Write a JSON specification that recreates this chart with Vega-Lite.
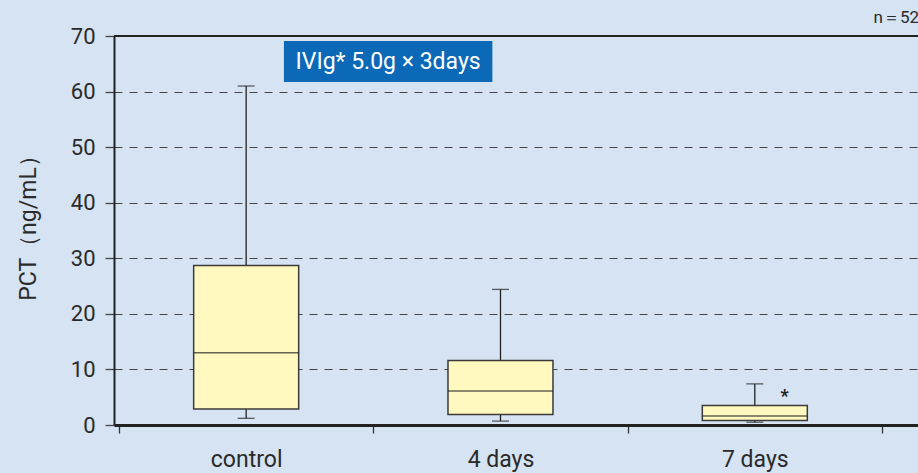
{
  "$schema": "https://vega.github.io/schema/vega-lite/v6.json",
  "width": 804,
  "height": 389,
  "autosize": {"type": "none"},
  "padding": {"left": 114, "top": 36, "right": 0, "bottom": 48},
  "background": "#d5e3f2",
  "config": {
    "view": {"stroke": null},
    "font": "Roboto",
    "axis": {"labelFont": "Roboto", "titleFont": "Roboto"}
  },
  "datasets": {
    "boxes": [
      {"group": "control", "x": 1, "low": 1.2, "q1": 2.9, "median": 13.0, "q3": 28.7, "high": 61.0},
      {"group": "4 days", "x": 2, "low": 0.7, "q1": 1.9, "median": 6.1, "q3": 11.6, "high": 24.4},
      {"group": "7 days", "x": 3, "low": 0.5, "q1": 0.8, "median": 1.6, "q3": 3.5, "high": 7.4}
    ],
    "outliers": [{"x": 3.117, "y": 5.7, "label": "*"}],
    "labelbox": [{"x": 1.1485, "x2": 1.968, "y": 69.1, "y2": 61.7, "tx": 1.558, "ty": 65.4, "text": "IVIg* 5.0g × 3days"}],
    "nlabel": [{"x": 3.622, "y": 73.2, "text": "n＝52"}],
    "top": [{"y": 70}]
  },
  "layer": [
    {
      "data": {"name": "boxes"},
      "mark": {"type": "rule", "color": "#222", "strokeWidth": 1.3},
      "encoding": {
        "x": {
          "field": "x", "type": "quantitative",
          "scale": {"domain": [0.5, 3.622], "nice": false, "zero": false},
          "axis": {
            "title": null,
            "values": [0.5, 1, 1.5, 2, 2.5, 3, 3.5],
            "labelExpr": "datum.value == 1 ? 'control' : datum.value == 2 ? '4 days' : datum.value == 3 ? '7 days' : ''",
            "grid": false,
            "domainColor": "#222",
            "domainWidth": 3,
            "tickColor": {"condition": {"test": "datum.value % 1 === 0", "value": "transparent"}, "value": "#333"},
            "tickSize": 8,
            "tickWidth": 1.3,
            "labelFontSize": 23,
            "labelColor": "#2a2a2a",
            "labelPadding": 15,
            "labelOverlap": false,
            "labelBound": false,
            "labelFlush": false
          }
        },
        "y": {
          "field": "low", "type": "quantitative",
          "scale": {"domain": [0, 70], "nice": false, "zero": true},
          "axis": {
            "title": "PCT（ng/mL）",
            "titleFontSize": 23,
            "titleFontWeight": "normal",
            "titleColor": "#2a2a2a",
            "titlePadding": 30,
            "titleY": 186,
            "values": [0, 10, 20, 30, 40, 50, 60, 70],
            "grid": true,
            "gridDash": [8, 7],
            "gridColor": "#444",
            "gridWidth": 1.2,
            "domainColor": "#222",
            "domainWidth": 2,
            "tickColor": "#444",
            "tickSize": 9,
            "tickWidth": 1.3,
            "labelFontSize": 22,
            "labelColor": "#2a2a2a",
            "labelPadding": 10
          }
        },
        "y2": {"field": "high"}
      }
    },
    {
      "data": {"name": "top"},
      "mark": {"type": "rule", "color": "#222", "strokeWidth": 2},
      "encoding": {"y": {"field": "y", "type": "quantitative"}}
    },
    {
      "data": {"name": "boxes"},
      "mark": {"type": "tick", "orient": "horizontal", "color": "#222", "size": 17, "thickness": 1.3},
      "encoding": {"x": {"field": "x", "type": "quantitative"}, "y": {"field": "high", "type": "quantitative"}}
    },
    {
      "data": {"name": "boxes"},
      "mark": {"type": "tick", "orient": "horizontal", "color": "#222", "size": 17, "thickness": 1.3},
      "encoding": {"x": {"field": "x", "type": "quantitative"}, "y": {"field": "low", "type": "quantitative"}}
    },
    {
      "data": {"name": "boxes"},
      "mark": {"type": "bar", "size": 105, "fill": "#fff9c0", "stroke": "#3a3a3a", "strokeWidth": 1.5},
      "encoding": {"x": {"field": "x", "type": "quantitative"}, "y": {"field": "q1", "type": "quantitative"}, "y2": {"field": "q3"}}
    },
    {
      "data": {"name": "boxes"},
      "mark": {"type": "tick", "orient": "horizontal", "color": "#222", "size": 105, "thickness": 1.5},
      "encoding": {"x": {"field": "x", "type": "quantitative"}, "y": {"field": "median", "type": "quantitative"}}
    },
    {
      "data": {"name": "outliers"},
      "mark": {"type": "text", "fontSize": 18, "fontWeight": "bold", "color": "#222", "baseline": "middle", "dy": 4},
      "encoding": {"x": {"field": "x", "type": "quantitative"}, "y": {"field": "y", "type": "quantitative"}, "text": {"field": "label"}}
    },
    {
      "data": {"name": "labelbox"},
      "mark": {"type": "rect", "fill": "#0b69b7"},
      "encoding": {"x": {"field": "x", "type": "quantitative"}, "x2": {"field": "x2"}, "y": {"field": "y", "type": "quantitative"}, "y2": {"field": "y2"}}
    },
    {
      "data": {"name": "labelbox"},
      "mark": {"type": "text", "fontSize": 23, "color": "white", "align": "center", "baseline": "middle"},
      "encoding": {"x": {"field": "tx", "type": "quantitative"}, "y": {"field": "ty", "type": "quantitative"}, "text": {"field": "text"}}
    },
    {
      "data": {"name": "nlabel"},
      "mark": {"type": "text", "fontSize": 17, "color": "#2a2a2a", "align": "right", "baseline": "middle", "dx": 6},
      "encoding": {"x": {"field": "x", "type": "quantitative"}, "y": {"field": "y", "type": "quantitative"}, "text": {"field": "text"}}
    }
  ]
}
